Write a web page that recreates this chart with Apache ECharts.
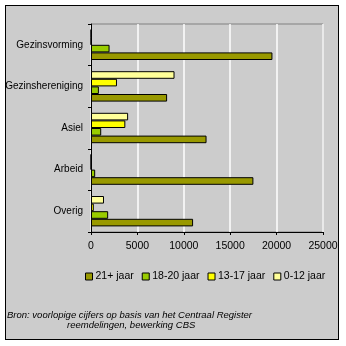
<!DOCTYPE html>
<html>
<head>
<meta charset="utf-8">
<script src="https://cdn.jsdelivr.net/npm/echarts@6/dist/echarts.min.js"></script>
<style>
html,body{margin:0;padding:0;background:#fff;}
#wrap{position:relative;width:346px;height:346px;}
#frame{position:absolute;left:5px;top:5px;width:334px;height:335px;background:#cccccc;border:1px solid #000;box-sizing:border-box;}
#c{position:absolute;left:0;top:0;width:346px;height:346px;}
</style>
</head>
<body>
<div id="wrap"><div id="frame"></div><div id="c"></div></div>
<script>
const categories = ['Gezinsvorming', 'Gezinshereniging', 'Asiel', 'Arbeid', 'Overig'];
const seriesNames = ['21+ jaar', '18-20 jaar', '13-17 jaar', '0-12 jaar'];
const v21plus = [19550, 8200, 12450, 17500, 11000];
const v18_20 = [2000, 850, 1100, 450, 1850];
const v13_17 = [0, 2800, 3700, 0, 300];
const v0_12 = [0, 9000, 4000, 0, 1400];
const xTicks = [0, 5000, 10000, 15000, 20000, 25000];
const sourceLine1 = 'Bron: voorlopige cijfers op basis van het Centraal Register';
const sourceLine2 = 'reemdelingen, bewerking CBS';

const colors = {'21+ jaar': '#999900', '18-20 jaar': '#99cc00', '13-17 jaar': '#ffff00', '0-12 jaar': '#ffff99'};
const dataByName = {'21+ jaar': v21plus, '18-20 jaar': v18_20, '13-17 jaar': v13_17, '0-12 jaar': v0_12};
// draw order: top bar first
const drawOrder = ['0-12 jaar', '13-17 jaar', '18-20 jaar', '21+ jaar'];
const font = 'Arial, "Liberation Sans", sans-serif';

const chart = echarts.init(document.getElementById('c'), null, {renderer: 'canvas'});
chart.setOption({
  animation: false,
  backgroundColor: 'transparent',
  textStyle: {fontFamily: font},
  graphic: [
    {type: 'text', left: 7, top: 310, style: {text: sourceLine1, font: 'italic 9.5px ' + font, fill: '#000'}},
    {type: 'text', left: 67, top: 320, style: {text: sourceLine2, font: 'italic 9.5px ' + font, fill: '#000'}}
  ],
  grid: {left: 91, top: 24, width: 232, height: 208, show: true, borderColor: '#808080', borderWidth: 1, backgroundColor: 'transparent'},
  legend: {
    data: seriesNames, left: 80, top: 266, icon: 'rect', itemWidth: 7, itemHeight: 7, itemGap: 8,
    textStyle: {fontSize: 10.5, color: '#000', padding: [0, 0, 0, -2]},
    itemStyle: {borderColor: '#000', borderWidth: 1}
  },
  xAxis: {
    type: 'value', min: xTicks[0], max: xTicks[xTicks.length - 1], interval: 5000,
    axisLine: {show: true, lineStyle: {color: '#000', width: 1}},
    axisTick: {show: true, length: 3, lineStyle: {color: '#000'}},
    axisLabel: {color: '#000', fontSize: 10.5, margin: 9, formatter: v => String(v)},
    splitLine: {show: true, lineStyle: {color: '#ffffff', width: 1.5, opacity: 1, type: 'solid'}}
  },
  yAxis: {
    type: 'category', data: categories, inverse: true,
    axisLine: {show: true, lineStyle: {color: '#000', width: 1}},
    axisTick: {show: true, length: 3, lineStyle: {color: '#000'}},
    axisLabel: {color: '#000', fontSize: 10, margin: 8},
    splitLine: {show: false}
  },
  series: drawOrder.map(n => ({
    name: n, type: 'bar', data: dataByName[n], barWidth: 7.6, barGap: '0%',
    itemStyle: {color: colors[n], borderColor: '#000', borderWidth: 1}
  }))
});
</script>
</body>
</html>
